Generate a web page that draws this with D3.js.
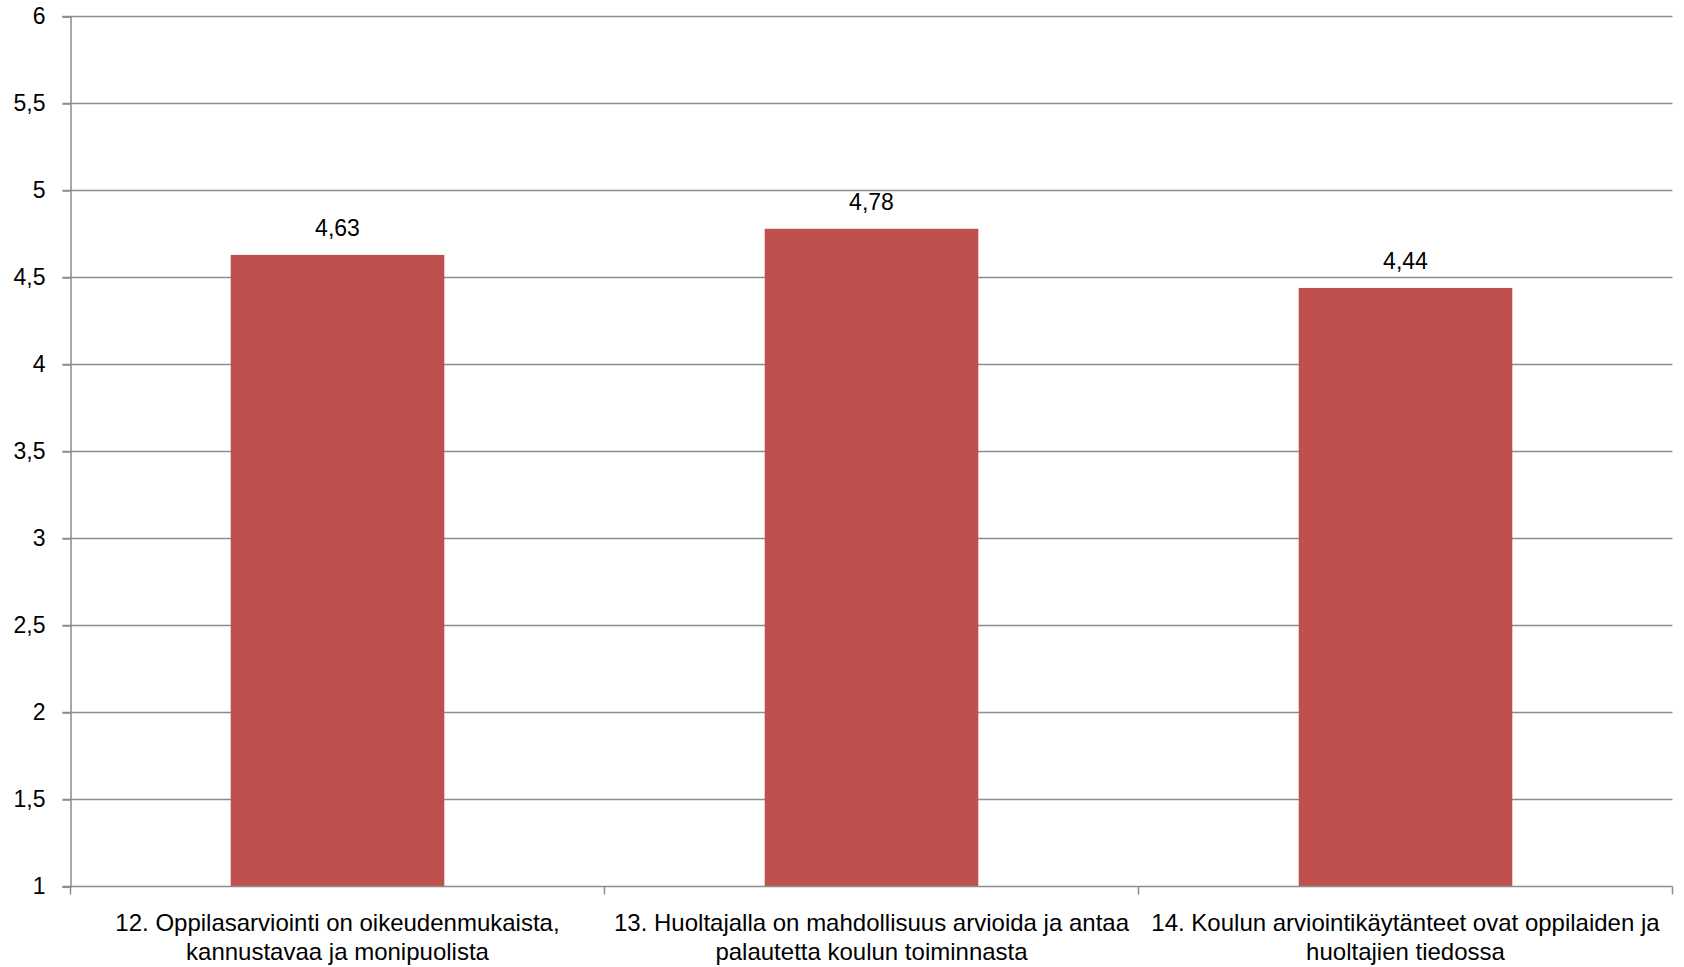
<!DOCTYPE html>
<html>
<head>
<meta charset="utf-8">
<script src="https://cdn.jsdelivr.net/npm/d3@7"></script>
<style>
  html, body { margin: 0; padding: 0; background: #ffffff; }
  svg { display: block; }
  text { font-family: "Liberation Sans", "DejaVu Sans", sans-serif; fill: #000; }
</style>
</head>
<body>
<svg id="chart" width="1684" height="967"></svg>
<script>
// ---- data ----
const categories = [
  "12. Oppilasarviointi on oikeudenmukaista, kannustavaa ja monipuolista",
  "13. Huoltajalla on mahdollisuus arvioida ja antaa palautetta koulun toiminnasta",
  "14. Koulun arviointikäytänteet ovat oppilaiden ja huoltajien tiedossa"
];
const categoryLines = [
  ["12. Oppilasarviointi on oikeudenmukaista,", "kannustavaa ja monipuolista"],
  ["13. Huoltajalla on mahdollisuus arvioida ja antaa", "palautetta koulun toiminnasta"],
  ["14. Koulun arviointikäytänteet ovat oppilaiden ja", "huoltajien tiedossa"]
];
const values = [4.63, 4.78, 4.44];
const valueLabels = ["4,63", "4,78", "4,44"];
const yTicks = [1, 1.5, 2, 2.5, 3, 3.5, 4, 4.5, 5, 5.5, 6];
const yTickLabels = ["1", "1,5", "2", "2,5", "3", "3,5", "4", "4,5", "5", "5,5", "6"];

(function () {
// ---- layout ----
const svg = d3.select("#chart");
const mLeft = 70.5, mRight = 1672.5, mTop = 16.5, mBottom = 886.5;
const gridColor = "#8c8c8c";

const x = d3.scaleBand().domain(categories).range([mLeft, mRight]).paddingInner(0.6).paddingOuter(0.3);
const y = d3.scaleLinear().domain([1, 6]).range([mBottom, mTop]);

// gridlines
svg.append("g").selectAll("line").data(yTicks.filter(d => d !== 1)).join("line")
  .attr("x1", mLeft - 8).attr("x2", mRight)
  .attr("y1", d => y(d)).attr("y2", d => y(d))
  .attr("stroke", gridColor).attr("stroke-width", 1.5);

// bars
svg.append("g").selectAll("rect").data(values).join("rect")
  .attr("x", (d, i) => x(categories[i]))
  .attr("width", x.bandwidth())
  .attr("y", d => y(d))
  .attr("height", d => y(1) - y(d))
  .attr("fill", "#C0504D");

// y axis
const yAxis = d3.axisLeft(y).tickValues(yTicks)
  .tickFormat((d, i) => yTickLabels[i]).tickSize(8).tickPadding(17);
const gy = svg.append("g").attr("transform", `translate(${mLeft},0)`).call(yAxis);
gy.select(".domain").attr("stroke", gridColor).attr("stroke-width", 1.5);
gy.selectAll(".tick line").attr("stroke", gridColor).attr("stroke-width", 1.5);
gy.selectAll(".tick text").attr("font-size", 23).attr("font-family", "Liberation Sans, sans-serif").attr("fill", "#000");

// x axis (category boundaries)
const xEdges = d3.range(categories.length + 1).map(i => mLeft + i * (mRight - mLeft) / categories.length);
const gx = svg.append("g");
gx.append("line").attr("x1", mLeft - 8).attr("x2", mRight).attr("y1", mBottom).attr("y2", mBottom)
  .attr("stroke", gridColor).attr("stroke-width", 1.5);
gx.selectAll("line.tick").data(xEdges).join("line").attr("class", "tick")
  .attr("x1", d => d).attr("x2", d => d).attr("y1", mBottom).attr("y2", mBottom + 8)
  .attr("stroke", gridColor).attr("stroke-width", 1.5);

// category labels
const lab = svg.append("g").selectAll("text").data(categoryLines).join("text")
  .attr("text-anchor", "middle")
  .attr("font-size", 24)
  .attr("x", (d, i) => x(categories[i]) + x.bandwidth() / 2)
  .attr("y", 931);
lab.selectAll("tspan").data(d => d).join("tspan")
  .attr("x", function() { return this.parentNode.getAttribute("x"); })
  .attr("dy", (d, j) => j === 0 ? 0 : 29)
  .text(d => d);

// value labels
svg.append("g").selectAll("text").data(values).join("text")
  .attr("text-anchor", "middle")
  .attr("font-size", 23)
  .attr("x", (d, i) => x(categories[i]) + x.bandwidth() / 2)
  .attr("y", d => y(d) - 19)
  .text((d, i) => valueLabels[i]);
})();
</script>
</body>
</html>
